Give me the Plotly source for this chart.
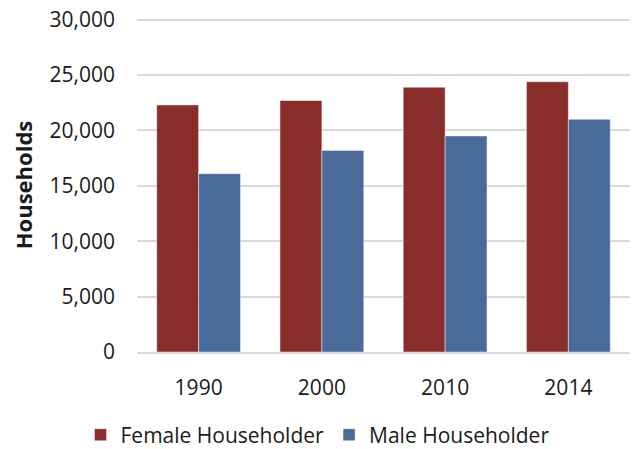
import plotly.graph_objects as go

years = ["1990", "2000", "2010", "2014"]
female = [22300, 22700, 23900, 24400]
male = [16100, 18200, 19500, 21000]
y_ticks = [0, 5000, 10000, 15000, 20000, 25000, 30000]

FONT = "Open Sans"

fig = go.Figure()
fig.add_trace(go.Bar(
    x=years, y=female, name="Female Householder",
    marker=dict(color="#892D2B", line=dict(color="rgba(255,255,255,0.45)", width=1)),
))
fig.add_trace(go.Bar(
    x=years, y=male, name="Male Householder",
    marker=dict(color="#4A6A99", line=dict(color="rgba(255,255,255,0.45)", width=1)),
))

fig.update_layout(
    width=635, height=449,
    margin=dict(l=137, r=5, t=18, b=97, autoexpand=False),
    paper_bgcolor="white", plot_bgcolor="white",
    barmode="group", bargap=0.32, bargroupgap=0,
    font=dict(family=FONT, size=21, color="#1a1a1a"),
    showlegend=True,
    legend=dict(
        orientation="h", xref="container", yref="container",
        x=0.5, xanchor="center", y=0.031, yanchor="middle",
        font=dict(size=21), itemwidth=30, traceorder="normal",
    ),
    yaxis=dict(
        range=[0, 30150], tickvals=y_ticks, tickformat=",d",
        showgrid=True, gridcolor="#D9D9D9", gridwidth=2,
        zeroline=False, showline=False, automargin=False,
        ticks="", ticklabelstandoff=21, ticklabeloverflow="allow",
        title=dict(text="<b>Households</b>", font=dict(size=22), standoff=10),
        tickfont=dict(size=21),
    ),
    xaxis=dict(
        showline=True, linecolor="#D9D9D9", linewidth=2, automargin=False,
        ticks="", tickfont=dict(size=21), ticklabelstandoff=16,
    ),
)

fig.write_html(
    "out.html",
    config={"displayModeBar": False},
    post_script="document.body.style.margin='0';",
)
